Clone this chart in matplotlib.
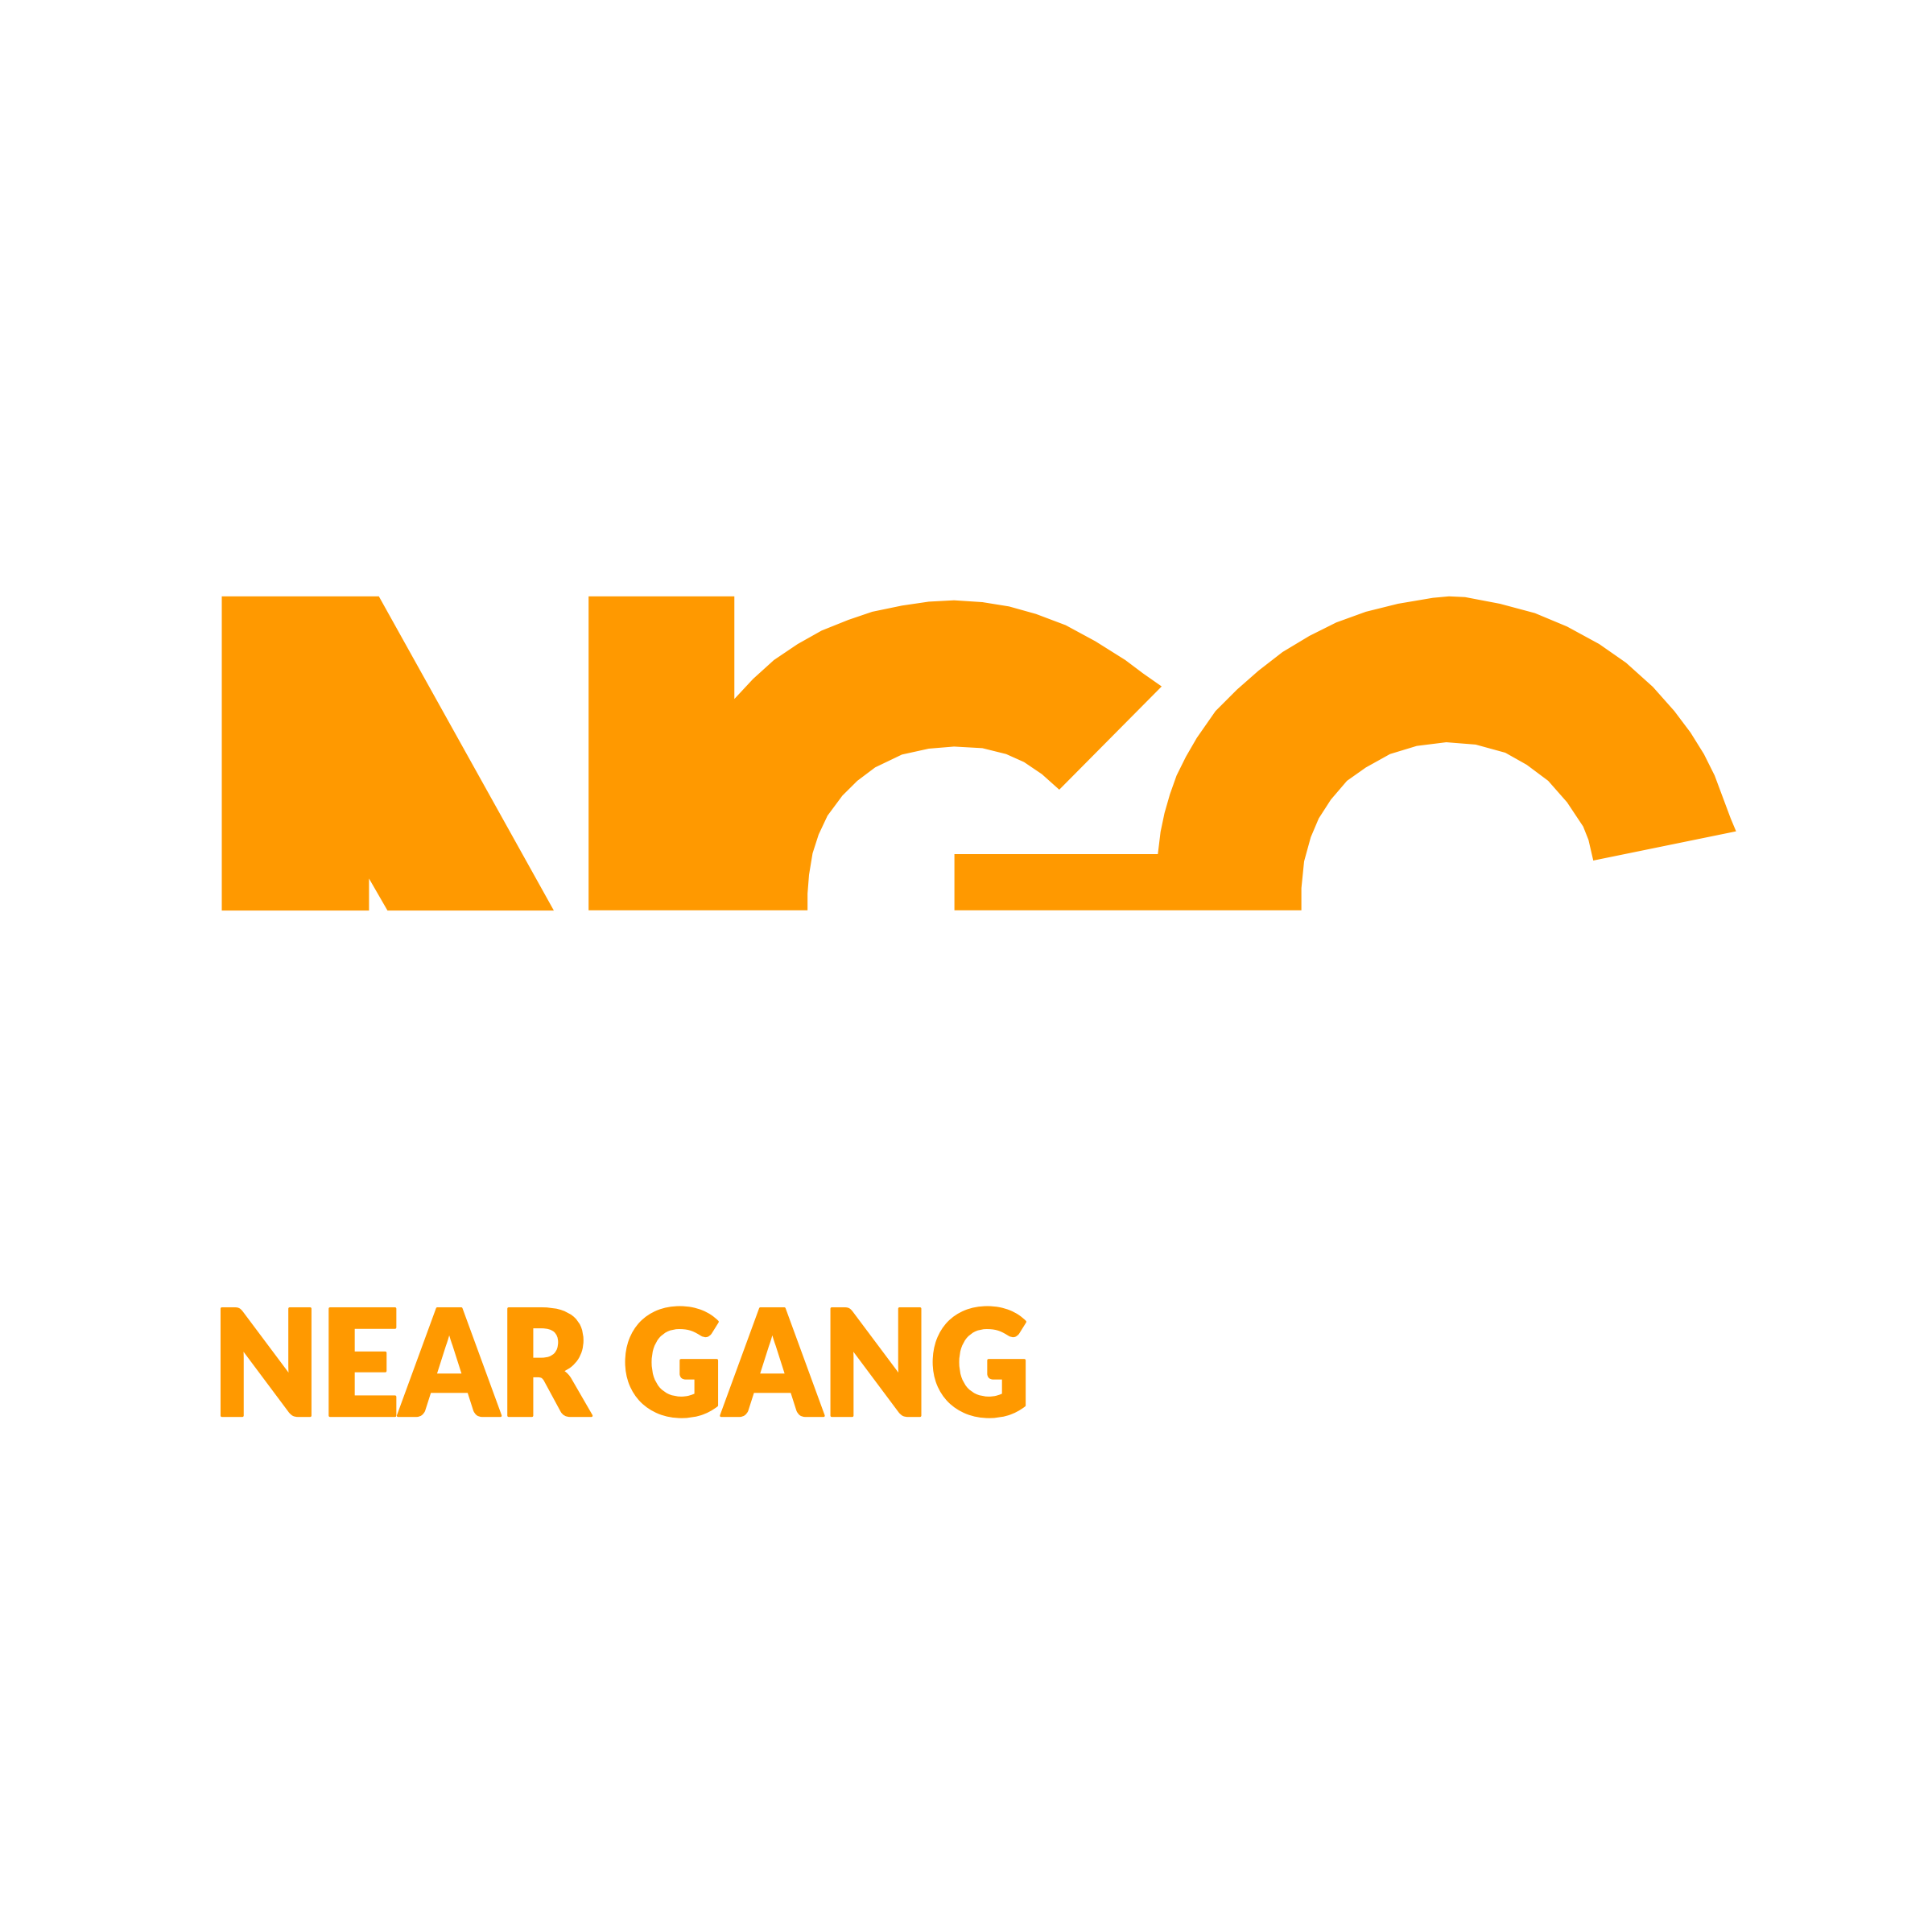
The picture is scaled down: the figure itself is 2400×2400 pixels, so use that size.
#!/usr/bin/env python3
"""
plot.py
Redraw the orange "NEAR GANG" logo mark and save it as out.png.
"""

import matplotlib
matplotlib.use("Agg")
import matplotlib.pyplot as plt
from matplotlib.font_manager import FontProperties
from matplotlib.textpath import TextPath
from matplotlib.patheffects import AbstractPathEffect
from matplotlib.transforms import Affine2D

# --- Configuration ---
DPI = 300
SIZE_IN = 8              # 8in * 300dpi = 2400px
CANVAS = 1568            # shapes below are measured on a 1568px grid
ORANGE = "#FF9900"
FONT_FAMILY = ["Lato", "DejaVu Sans"]
STROKE_PX = 3            # a little extra weight for the caption glyphs

# --- Shape outlines (x, y on the 1568 grid, y grows downward) ---
LEFT_X = [180, 307.5, 449.5, 314.5, 299.5, 299.5, 180]
LEFT_Y = [484, 484, 739, 739, 713, 739, 739]

MID_X = [477.7, 477.7, 596.0, 596.0, 611.2, 628.1, 647.4, 666.8, 688.5, 707.9,
         732.0, 753.8, 774.3, 797.3, 819.0, 840.8, 864.9, 889.1, 913.3, 927.8,
         942.8, 859.7, 845.6, 831.1, 816.6, 797.3, 774.3, 753.8, 732.0, 710.3,
         695.8, 683.7, 671.6, 664.4, 659.5, 656.6, 655.4, 655.4]
MID_Y = [738.8, 484, 484, 567.3, 551.0, 535.7, 522.7, 511.8, 503.1, 496.5,
         491.5, 488.3, 487.2, 488.7, 492.2, 498.3, 507.4, 520.5, 535.7, 546.6,
         557.1, 640.9, 628.3, 618.5, 612.0, 607.2, 605.9, 607.6, 612.4, 622.8,
         633.7, 645.7, 662.0, 677.3, 692.5, 710.0, 725.2, 738.8]

RIGHT_X = [774.6, 774.6, 939.7, 941.9, 945.1, 949.5, 954.9, 962.5, 971.3, 986.5,
           1003.9, 1021.3, 1040.9, 1062.7, 1084.5, 1108.5, 1134.6, 1162.9, 1176.0,
           1189.0, 1217.3, 1245.7, 1271.8, 1297.9, 1319.7, 1341.5, 1358.9, 1372.0,
           1382.9, 1391.6, 1398.1, 1404.6, 1409.0, 1293.1, 1289.2, 1284.9, 1271.8,
           1256.5, 1239.1, 1221.7, 1197.7, 1173.8, 1149.8, 1128.1, 1108.5, 1093.2,
           1080.1, 1070.3, 1063.8, 1058.4, 1056.2, 1056.2]
RIGHT_Y = [738.8, 693.2, 693.2, 675.1, 659.9, 644.6, 629.4, 614.1, 598.9, 577.1,
           559.7, 544.4, 529.2, 516.1, 505.2, 496.5, 490.0, 485.2, 484.0,
           484.6, 490.0, 497.6, 508.5, 522.7, 537.9, 557.5, 577.1, 594.5,
           612.0, 629.4, 646.8, 664.2, 674.7, 698.4, 681.6, 670.8, 651.1,
           633.7, 620.7, 610.9, 604.3, 602.4, 605.4, 612.0, 622.9, 633.7,
           649.0, 664.2, 679.5, 699.1, 720.8, 738.8]

# --- Caption ---
LABEL = "NEAR GANG"
LABEL_LEFT = 179
LABEL_RIGHT = 833
LABEL_TOP = 1061
LABEL_BASE = 1150


class HeavySqueeze(AbstractPathEffect):
    """Scale glyphs horizontally around x0 (display px) and fill + stroke them."""

    def __init__(self, sx, x0, stroke_pt):
        super().__init__()
        self.sx = sx
        self.x0 = x0
        self.stroke_pt = stroke_pt

    def draw_path(self, renderer, gc, tpath, affine, rgbFace=None):
        squeeze = Affine2D().translate(-self.x0, 0).scale(self.sx, 1).translate(self.x0, 0)
        gc0 = renderer.new_gc()
        gc0.copy_properties(gc)
        gc0.set_linewidth(self.stroke_pt)
        gc0.set_foreground(rgbFace)
        gc0.set_joinstyle("round")
        renderer.draw_path(gc0, tpath, affine + squeeze, rgbFace)
        gc0.restore()


def draw_shapes(ax):
    ax.fill(LEFT_X, LEFT_Y, color=ORANGE, lw=0)
    ax.fill(MID_X, MID_Y, color=ORANGE, lw=0)
    ax.fill(RIGHT_X, RIGHT_Y, color=ORANGE, lw=0)


def draw_caption(ax):
    k = SIZE_IN * DPI / CANVAS
    fp = FontProperties(family=FONT_FAMILY, weight="heavy")

    # measure the font so the ink box lands where the reference has it
    ext = TextPath((0, 0), LABEL, size=1, prop=fp).get_extents()
    cap = TextPath((0, 0), "N", size=1, prop=fp).get_extents().height
    em_px = ((LABEL_BASE - LABEL_TOP) * k - STROKE_PX) / cap
    sx = ((LABEL_RIGHT - LABEL_LEFT) * k - STROKE_PX) / (ext.width * em_px)
    anchor_px = LABEL_LEFT * k + STROKE_PX / 2 - ext.x0 * em_px * sx
    base = LABEL_BASE - STROKE_PX / 2 / k

    ax.text(anchor_px / k, base, LABEL, fontproperties=fp,
            fontsize=em_px * 72 / DPI, color=ORANGE, ha="left", va="baseline",
            path_effects=[HeavySqueeze(sx, anchor_px, STROKE_PX * 72 / DPI)])


def main():
    fig = plt.figure(figsize=(SIZE_IN, SIZE_IN), dpi=DPI)
    fig.patch.set_facecolor("white")
    ax = fig.add_axes([0, 0, 1, 1])
    ax.set_xlim(0, CANVAS)
    ax.set_ylim(CANVAS, 0)
    ax.axis("off")

    draw_shapes(ax)
    draw_caption(ax)

    fig.savefig("out.png", dpi=DPI, facecolor="white")
    plt.close(fig)


if __name__ == "__main__":
    main()
